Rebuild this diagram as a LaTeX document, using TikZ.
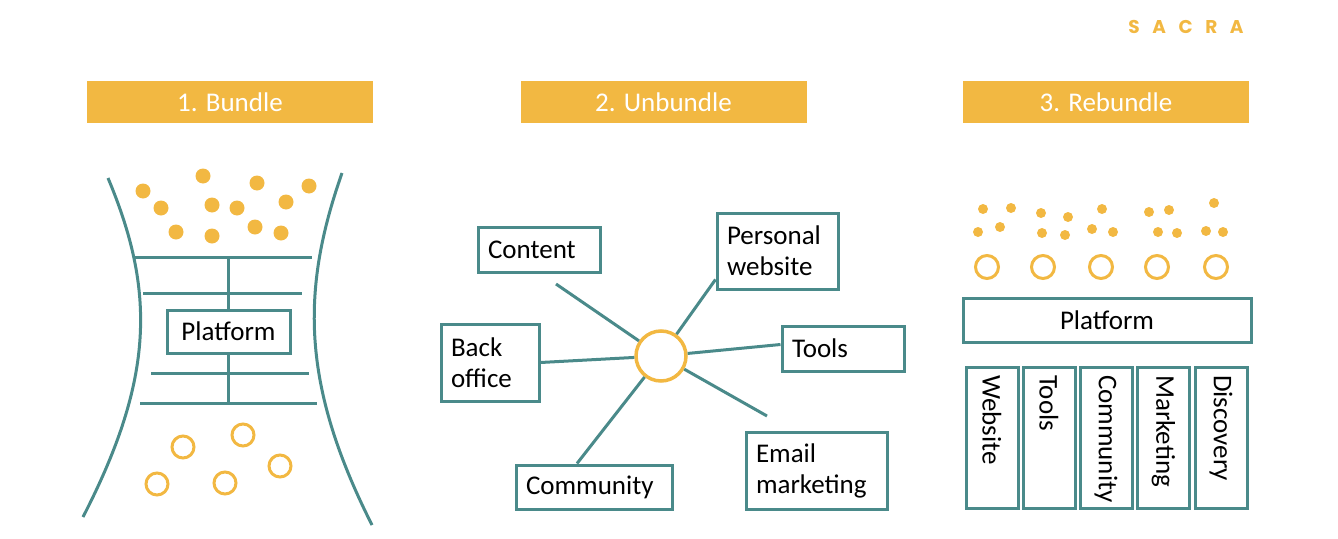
\documentclass[tikz,border=0pt]{standalone}
\usepackage{fontspec}
\setmainfont{Carlito}
\newfontfamily\sacrafont[LetterSpace=68]{Poppins}
\definecolor{sacragold}{RGB}{242,184,66}
\definecolor{sacrateal}{RGB}{74,138,138}
\tikzset{
	header/.style={fill=sacragold, text=white, minimum width=286pt, minimum height=42pt, inner sep=0pt},
	tbox/.style={draw=sacrateal, line width=3pt, inner xsep=10pt, inner ysep=0pt, align=left},
	ring/.style={draw=sacragold, line width=3pt},
	wire/.style={draw=sacrateal, line width=3pt}
}
\begin{document}
\begin{tikzpicture}[x=1pt, y=-1pt, font=\fontsize{27}{31}\selectfont]
	\useasboundingbox (0,0) rectangle (1338,538);
	% Headers:
	\node[text=sacragold, font=\fontsize{18.5}{18}\sacrafont\bfseries] (logo) at (1186,27) {SACRA};
	\node[header] (bundle) at (230,102) {1. Bundle};
	\node[header] (unbundle) at (663.5,102) {2. Unbundle};
	\node[header] (rebundle) at (1106,102) {3. Rebundle};

	% 1. Bundle
	\draw[wire] (108,178) .. controls (155,290) and (155,377) .. (83,517);
	\draw[wire] (342,173) .. controls (301,290) and (301,384) .. (372,525);
	\foreach \x/\y in {143/191, 203/176, 257/183, 309/186, 161/208, 212/205, 237/208, 286/202, 176/232, 212/236, 255/227, 281/233}
		\fill[sacragold] (\x,\y) circle (7.5pt);
	\foreach \x/\y in {243/435, 183/447, 280/466, 157/484, 225/483}
		\draw[ring] (\x,\y) circle (11pt);
	\node[tbox, align=center, minimum width=123pt, minimum height=43pt] (plat1) at (228.5,331.5) {Platform};
	\draw[wire] (135,257) -- (312,257);
	\draw[wire] (143,293) -- (302,293);
	\draw[wire] (151,373) -- (309,373);
	\draw[wire] (140,403) -- (317,403);
	\draw[wire] (plat1.north) -- (plat1.north |- 0,257);
	\draw[wire] (plat1.south) -- (plat1.south |- 0,403);

	% 2. Unbundle
	\node[ring, circle, minimum size=50pt, line width=3.5pt] (hub) at (661,356) {};
	\node[tbox, text width=102pt, minimum height=45pt] (content) at (539,249.5) {Content};
	\node[tbox, text width=101pt, minimum height=76pt] (pweb) at (777.5,251) {Personal\\website};
	\node[tbox, text width=78pt, minimum height=77pt] (back) at (490,362.5) {Back\\office};
	\node[tbox, text width=102pt, minimum height=45pt] (tools) at (843,348.5) {Tools};
	\node[tbox, text width=121pt, minimum height=77pt] (email) at (816.5,470.5) {Email\\marketing};
	\node[tbox, text width=136pt, minimum height=44pt] (comm) at (594,487) {Community};
	\coordinate (contentend) at (556,284);
	\coordinate (emailend) at (767,416);
	\draw[wire] (hub) -- (contentend);
	\draw[wire] (hub) -- ([yshift=11pt]pweb.south west);
	\draw[wire] (hub) -- (back.east);
	\draw[wire] (hub) -- ([yshift=4pt]tools.west);
	\draw[wire] (hub) -- (emailend);
	\draw[wire] (hub) -- ([xshift=-17pt]comm.north);

	% 3. Rebundle
	\foreach \x/\y in {983/209, 1011/208, 978/232, 1000/227, 1041/213, 1068/217, 1042/233, 1065/235, 1102/209, 1092/229, 1113/232, 1149/212, 1169/210, 1158/232, 1177/233, 1214/203, 1206/231, 1223/232}
		\fill[sacragold] (\x,\y) circle (5pt);
	\foreach \x in {987, 1043, 1101, 1157, 1216}
		\draw[ring] (\x,267) circle (11.5pt);
	\node[tbox, align=center, minimum width=288pt, minimum height=44pt] (plat3) at (1107,320) {Platform};
	\foreach \x/\name/\txt in {992/website/Website, 1049/tools3/Tools, 1106/community/Community, 1163.5/marketing/Marketing, 1221/discovery/Discovery}
		\node[tbox, rotate=-90, inner xsep=8pt, text width=125pt, minimum width=141pt, minimum height=52pt] (\name) at (\x,437.5) {\txt};
\end{tikzpicture}
\end{document}
